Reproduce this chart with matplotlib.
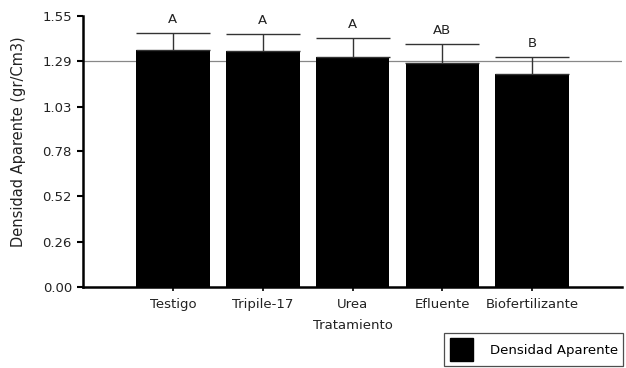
import matplotlib
matplotlib.use("Agg")
import matplotlib.pyplot as plt
import numpy as np
from matplotlib.patches import Patch

plt.rcParams['font.family'] = ['DejaVu Sans']

tratamientos = ["Testigo", "Tripile-17", "Urea", "Efluente", "Biofertilizante"]
densidad = [1.355, 1.352, 1.317, 1.283, 1.219]
error = [0.100, 0.097, 0.107, 0.109, 0.099]
letras = ["A", "A", "A", "AB", "B"]
yticks = [0.00, 0.26, 0.52, 0.78, 1.03, 1.29, 1.55]
referencia = 1.29

fs = 9.5
txt = "#222222"

fig = plt.figure(figsize=(6.26, 3.68), dpi=100)
ax = fig.add_axes([0.1326, 0.2201, 0.861, 0.7364])

x = np.arange(len(tratamientos))
width = 0.82
ax.bar(x, densidad, width=width, color="black", zorder=2)
ax.errorbar(x, densidad, yerr=[np.zeros(len(error)), error], fmt="none",
            ecolor="#333333", elinewidth=1.0, capsize=26.5, capthick=1.0, zorder=3)
ax.axhline(referencia, color="#888888", lw=0.9, zorder=1)

for xi, d, e, l in zip(x, densidad, error, letras):
    ax.text(xi, d + e + 0.04, l, ha="center", va="bottom", fontsize=fs, color=txt)

ax.set_xlim(-1, 5)
ax.set_ylim(0, 1.55)
ax.set_yticks(yticks)
ax.set_yticklabels([f"{v:.2f}" for v in yticks], fontsize=fs, color=txt)
ax.set_xticks(x)
ax.set_xticklabels(tratamientos, fontsize=fs, color=txt)
ax.tick_params(axis="y", direction="out", length=4, width=1.5, pad=4)
ax.tick_params(axis="x", direction="out", length=3, width=1.2, pad=5)

for s in ["top", "right"]:
    ax.spines[s].set_visible(False)
for s in ["left", "bottom"]:
    ax.spines[s].set_linewidth(1.8)

ax.set_xlabel("Tratamiento", fontsize=fs, labelpad=6, color=txt)
ax.set_ylabel("Densidad Aparente (gr/Cm3)", fontsize=10.5, color=txt)
ax.yaxis.set_label_coords(-0.106, 0.535)

leg = fig.legend(handles=[Patch(facecolor="black", edgecolor="black", label="Densidad Aparente")],
                 loc="lower right", bbox_to_anchor=(1.0, -0.003), fontsize=fs,
                 frameon=True, fancybox=False, edgecolor="#222222",
                 handlelength=1.75, handleheight=2.3, borderpad=0.4, handletextpad=1.3,
                 borderaxespad=0.2)
leg.get_frame().set_linewidth(0.9)

fig.savefig("out.png", dpi=100)
